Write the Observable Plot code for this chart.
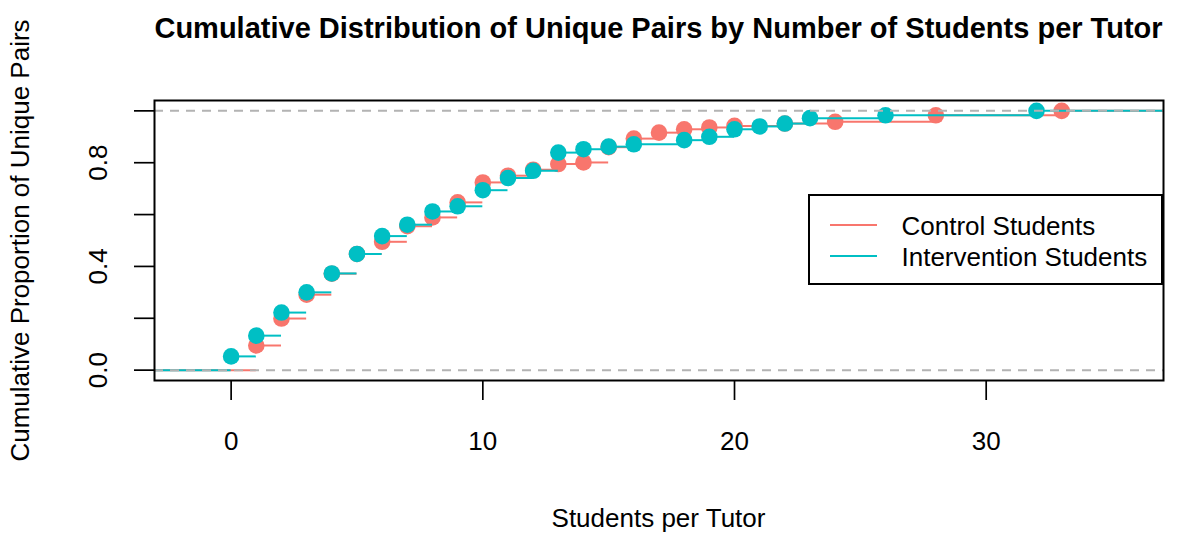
<!DOCTYPE html>
<html>
<head>
<meta charset="utf-8">
<script src="https://cdn.jsdelivr.net/npm/d3@7"></script>
<script src="https://cdn.jsdelivr.net/npm/@observablehq/plot@0.6"></script>
<style>
  body { margin: 0; background: #fff; font-family: "Liberation Sans", Arial, Helvetica, sans-serif; }
  #wrap { position: relative; width: 1182px; height: 533px; overflow: hidden; }
  .abs { position: absolute; white-space: nowrap; line-height: 1; color: #000; }
  #title { font-weight: bold; font-size: 29px; left: 658.5px; top: 13.5px; transform: translateX(-50%); }
  #xlab { font-size: 26px; left: 658.5px; top: 505px; transform: translateX(-50%); }
  #legend { position: absolute; left: 808px; top: 194px; width: 355px; height: 91px; border: 2px solid #000; box-sizing: border-box; background: #fff; }
  .key { position: absolute; width: 47px; height: 2px; left: 20px; }
  .lab { position: absolute; font-size: 26px; line-height: 1; left: 91.5px; white-space: nowrap; }
</style>
</head>
<body>
<div id="wrap"></div>
<script>
// Empirical CDF of students per tutor, one step per observed value
const controlX = [1, 2, 3, 4, 5, 6, 7, 8, 9, 10, 11, 12, 13, 14, 15, 16, 17, 18, 19, 20, 22, 24, 28, 33];
const controlY = [0.095, 0.199, 0.291, 0.372, 0.448, 0.495, 0.555, 0.589, 0.647, 0.724, 0.750, 0.773, 0.795, 0.801, 0.860, 0.893, 0.916, 0.929, 0.936, 0.942, 0.951, 0.958, 0.983, 1.000];

const interventionX = [0, 1, 2, 3, 4, 5, 6, 7, 8, 9, 10, 11, 12, 13, 14, 15, 16, 18, 19, 20, 21, 22, 23, 26, 32];
const interventionY = [0.053, 0.133, 0.222, 0.300, 0.373, 0.448, 0.517, 0.561, 0.612, 0.632, 0.694, 0.741, 0.769, 0.839, 0.852, 0.862, 0.871, 0.887, 0.900, 0.929, 0.940, 0.951, 0.972, 0.983, 1.000];

const seriesNames = ["Control Students", "Intervention Students"];
const seriesColors = ["#F8766D", "#00BFC4"];

const xTicks = [0, 10, 20, 30];
const yTicks = [0, 0.2, 0.4, 0.6, 0.8, 1.0];
const yTickLabels = [0, 0.4, 0.8];
const refLevels = [0, 1];

const titleText = "Cumulative Distribution of Unique Pairs by Number of Students per Tutor";
const xLabel = "Students per Tutor";
const yLabel = "Cumulative Proportion of Unique Pairs";

// plot range: knots padded by 8% of their span, then R-style 4% axis expansion
const xDomain = [-3.045, 37.045];
const yDomain = [-0.04, 1.04];

const points = (xs, ys) => xs.map((x, i) => ({x, y: ys[i]}));
// horizontal step segments: from the left edge at 0, then knot to next knot, last one to the right edge
function steps(xs, ys) {
  const out = [{x1: xDomain[0], x2: xs[0], y: 0}];
  xs.forEach((x, i) => out.push({x1: x, x2: i + 1 < xs.length ? xs[i + 1] : xDomain[1], y: ys[i]}));
  return out;
}

const control = points(controlX, controlY);
const intervention = points(interventionX, interventionY);

const chart = Plot.plot({
  width: 1182,
  height: 533,
  marginLeft: 154,
  marginRight: 19,
  marginTop: 100,
  marginBottom: 153,
  x: {domain: xDomain},
  y: {domain: yDomain},
  style: {fontFamily: "'Liberation Sans', Arial, Helvetica, sans-serif", fontSize: "26px", color: "#000", background: "#fff", overflow: "visible"},
  marks: [
    Plot.ruleY(steps(controlX, controlY), {y: "y", x1: "x1", x2: "x2", stroke: seriesColors[0], strokeWidth: 2, clip: true}),
    Plot.dot(control, {x: "x", y: "y", r: 8.3, fill: seriesColors[0], stroke: "none", clip: true}),
    Plot.ruleY(steps(interventionX, interventionY), {y: "y", x1: "x1", x2: "x2", stroke: seriesColors[1], strokeWidth: 2, clip: true}),
    Plot.dot(intervention, {x: "x", y: "y", r: 8.3, fill: seriesColors[1], stroke: "none", clip: true}),
    Plot.ruleY(refLevels, {stroke: "#b3b3b3", strokeWidth: 2, strokeDasharray: "9,7"}),
    Plot.frame({stroke: "#000", strokeWidth: 2}),
    Plot.axisX({ticks: xTicks, tickSize: 20, tickPadding: 31, fontSize: 26, strokeWidth: 1.7, tickFormat: d => String(d), label: null}),
    Plot.axisY({ticks: yTicks, tickSize: 20, strokeWidth: 1.7, tickFormat: () => "", label: null}),
    Plot.text(yTickLabels, {y: d => d, text: d => d.toFixed(1), frameAnchor: "left", dx: -55.5, rotate: -90, fontSize: 26, textAnchor: "middle", lineAnchor: "middle"}),
    Plot.text([yLabel], {text: d => d, frameAnchor: "left", dx: -133.5, rotate: -90, fontSize: 26, textAnchor: "middle", lineAnchor: "middle"})
  ]
});

const wrap = document.getElementById("wrap");
wrap.appendChild(chart);

const title = document.createElement("div");
title.className = "abs"; title.id = "title"; title.textContent = titleText;
wrap.appendChild(title);

const xl = document.createElement("div");
xl.className = "abs"; xl.id = "xlab"; xl.textContent = xLabel;
wrap.appendChild(xl);

// legend box
const legend = document.createElement("div");
legend.id = "legend";
seriesNames.forEach((name, i) => {
  const key = document.createElement("div");
  key.className = "key";
  key.style.background = seriesColors[i];
  key.style.top = (28 + i * 30.5) + "px";
  legend.appendChild(key);
  const lab = document.createElement("div");
  lab.className = "lab";
  lab.textContent = name;
  lab.style.top = (17 + i * 30.7) + "px";
  legend.appendChild(lab);
});
wrap.appendChild(legend);
</script>
</body>
</html>
